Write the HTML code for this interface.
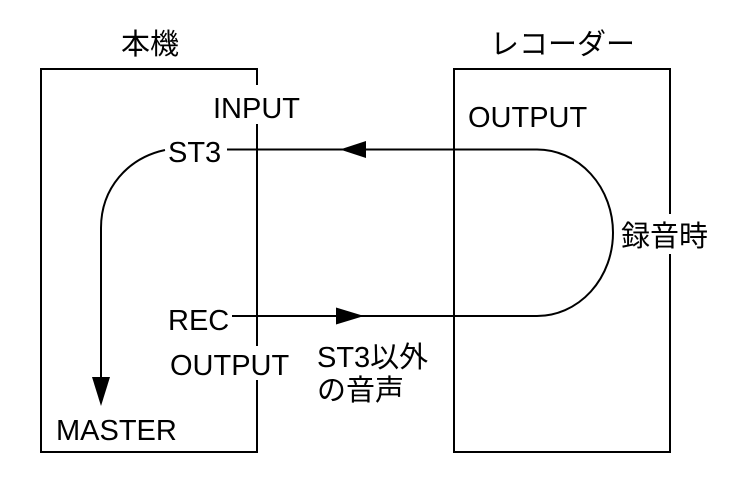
<!DOCTYPE html>
<html><head><meta charset="utf-8"><style>
html,body{margin:0;padding:0;background:#fff;}
svg{display:block;}
text{font-family:"Liberation Sans","Noto Sans CJK JP",sans-serif;font-size:29px;fill:#000;}
</style></head><body>
<svg width="740" height="500" viewBox="0 0 740 500" xmlns="http://www.w3.org/2000/svg">
<g fill="none" stroke="#000" stroke-width="2">
  <!-- left box -->
  <polyline points="257,85 257,69 41,69 41,452 257,452 257,380"/>
  <line x1="257" y1="124" x2="257" y2="346"/>
  <!-- right box -->
  <polyline points="670,214 670,69 454,69 454,452 670,452 670,254"/>
  <!-- ST3 line and loop -->
  <path d="M227,149.5 L537,149.5 A76 83.25 0 0 1 537,316 L232,316"/>
  <!-- left curve -->
  <path d="M165,150 C128,158 101,188 101,228 L101,380"/>
</g>
<g fill="#000" stroke="none">
  <polygon points="340,149.5 366,141 366,158"/>
  <polygon points="364,316 336,307.5 336,324.5"/>
  <polygon points="101,406 92,377 110,377"/>
</g>
<text x="121" y="54">本機</text>
<text x="490" y="54">レコーダー</text>
<text x="213" y="118">INPUT</text>
<text x="468" y="127">OUTPUT</text>
<text x="168" y="162">ST3</text>
<text x="621" y="246">録音時</text>
<text x="168" y="330">REC</text>
<text x="170" y="375">OUTPUT</text>
<text x="317" y="367">ST3以外</text>
<text x="317" y="400">の音声</text>
<text x="56" y="440">MASTER</text>
</svg>
</body></html>
